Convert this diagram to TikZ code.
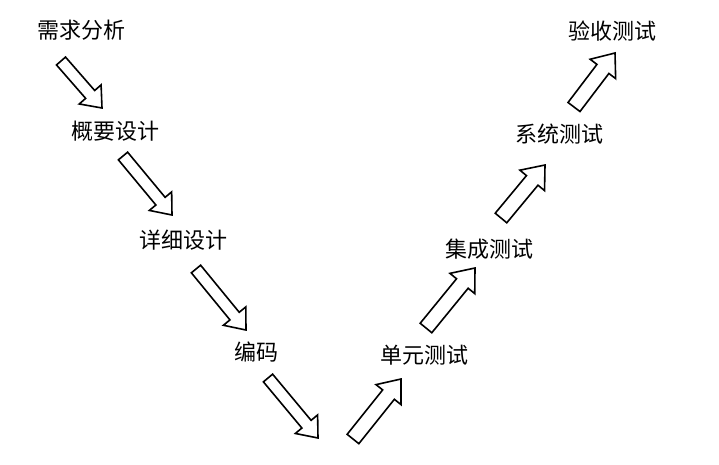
\documentclass[tikz,border=0pt]{standalone}
\usepackage{fontspec}
\newfontfamily\cjk{Noto Sans CJK SC}
\usetikzlibrary{calc}

% flecha de bloque: cola, punta, medio ancho del cuerpo, medio ancho de la cabeza, largo de la cabeza
\newcommand{\blockarrow}[5]{%
    \coordinate (#2-base) at ($(#2)!#5!(#1)$);
    \draw[flechaBloque] ($(#1)!#3!90:(#2)$) -- ($(#2-base)!#3!90:(#2)$)
        -- ($(#2-base)!#4!90:(#2)$) -- (#2) -- ($(#2-base)!#4!-90:(#2)$)
        -- ($(#2-base)!#3!-90:(#2)$) -- ($(#1)!#3!-90:(#2)$) -- cycle;
}

\begin{document}
\begin{tikzpicture}[
    x=1pt, y=-1pt,
    % Estilo para las fases
    fase/.style={
        inner sep=0pt,
        font=\cjk\fontsize{22}{24}\selectfont
    },
    % Estilo para las flechas de bloque
    flechaBloque/.style={
        draw=black,
        fill=white,
        line width=1.6pt,
        line join=miter
    }
]
    \useasboundingbox (0,0) rectangle (719,464);

    % --- FASES DE DESARROLLO (lado izquierdo) ---
    \node[fase] (req)     at (81,30)    {需求分析};
    \node[fase] (outline) at (115.5,131) {概要设计};
    \node[fase] (detail)  at (183,240)  {详细设计};
    \node[fase] (code)    at (256,352)  {编码};

    % --- FASES DE PRUEBA (lado derecho) ---
    \node[fase] (unit)    at (424.5,355) {单元测试};
    \node[fase] (integ)   at (489.5,249) {集成测试};
    \node[fase] (system)  at (559,134)  {系统测试};
    \node[fase] (accept)  at (612,31)   {验收测试};

    % --- EXTREMOS DE LAS FLECHAS ---
    \coordinate (d1s) at (61,61);   \coordinate (d1e) at (102,108);
    \coordinate (d2s) at (123,156); \coordinate (d2e) at (172,215);
    \coordinate (d3s) at (196,269); \coordinate (d3e) at (246,330);
    \coordinate (d4s) at (268,378); \coordinate (d4e) at (318,438);
    \coordinate (u1s) at (353,439); \coordinate (u1e) at (401,379);
    \coordinate (u2s) at (426,328); \coordinate (u2e) at (475,268);
    \coordinate (u3s) at (501,218); \coordinate (u3e) at (545,165);
    \coordinate (u4s) at (574,107); \coordinate (u4e) at (615,53);

    % --- FLECHAS DE BAJADA ---
    \foreach \a in {d1,d2,d3,d4}
        \blockarrow{\a s}{\a e}{6pt}{14.5pt}{18pt};

    % --- FLECHAS DE SUBIDA ---
    \foreach \a in {u1,u2,u3,u4}
        \blockarrow{\a s}{\a e}{7.5pt}{16pt}{20pt};

\end{tikzpicture}
\end{document}
